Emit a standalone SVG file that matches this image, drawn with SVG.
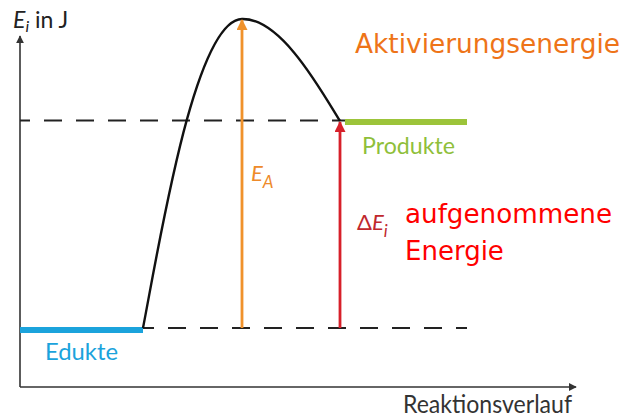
<svg xmlns="http://www.w3.org/2000/svg" width="635" height="417" viewBox="0 0 635 417">
<style>
.fig{font-family:Lato,"Open Sans","DejaVu Sans",sans-serif}
.ann{font-family:"DejaVu Sans",Verdana,sans-serif;font-size:26px}
.axis{stroke:#333;stroke-width:1.6;fill:none}
.dash{stroke:#222;stroke-width:2;stroke-dasharray:18 14;fill:none}
</style>
<defs>
<marker id="ax" viewBox="0 0 10 10" refX="9" refY="5" markerWidth="8" markerHeight="8" markerUnits="userSpaceOnUse" orient="auto"><path d="M0,0 L10,5 L0,10 Z" fill="#333"/></marker>
<marker id="orA" viewBox="0 0 10 10" refX="9" refY="5" markerWidth="13" markerHeight="11" markerUnits="userSpaceOnUse" orient="auto"><path d="M0,0 L10,5 L0,10 Z" fill="#f0922b"/></marker>
<marker id="rdA" viewBox="0 0 10 10" refX="9" refY="5" markerWidth="13" markerHeight="11" markerUnits="userSpaceOnUse" orient="auto"><path d="M0,0 L10,5 L0,10 Z" fill="#d7202a"/></marker>
</defs>
<rect width="635" height="417" fill="#fff"/>
<g id="axes">
<line class="axis" x1="20" y1="387" x2="20" y2="36" marker-end="url(#ax)"/>
<line class="axis" x1="20" y1="387" x2="576" y2="387" marker-end="url(#ax)"/>
<text class="fig" x="13" y="28" font-size="23" fill="#222"><tspan font-style="italic">E</tspan><tspan font-style="italic" font-size="16" dy="4">i</tspan><tspan dy="-4"> in J</tspan></text>
<text class="fig" x="403" y="413" font-size="25" fill="#333" textLength="169" lengthAdjust="spacingAndGlyphs">Reaktionsverlauf</text>
</g>
<g id="levels">
<line class="dash" x1="20" y1="120.5" x2="345" y2="120.5" stroke-dashoffset="8"/>
<line class="dash" x1="143" y1="328" x2="467" y2="328" stroke-dashoffset="7"/>
</g>
<g id="edukte">
<rect x="20" y="327" width="123" height="6" fill="#1ba3dc"/>
<text class="fig" x="45" y="360" font-size="24" fill="#1ba3dc" textLength="73" lengthAdjust="spacingAndGlyphs">Edukte</text>
</g>
<g id="produkte">
<rect x="345" y="119" width="122" height="6" fill="#9cc43a"/>
<text class="fig" x="362" y="154" font-size="24" fill="#8fbf3a" textLength="93" lengthAdjust="spacingAndGlyphs">Produkte</text>
</g>
<g id="connectors">
<path d="M143,328 C160,240 195,20 242,19 C280,18 318,85 340,121" fill="none" stroke="#111" stroke-width="2.4"/>
<line x1="242" y1="328" x2="242" y2="20" stroke="#f0922b" stroke-width="2.8" marker-end="url(#orA)"/>
<line x1="340" y1="328" x2="340" y2="122" stroke="#d7202a" stroke-width="2.8" marker-end="url(#rdA)"/>
</g>
<g id="label-ea">
<text class="fig" x="251" y="181" font-size="22" font-style="italic" fill="#ee8a2a">E<tspan font-size="17" dy="7">A</tspan></text>
</g>
<g id="label-dei">
<text class="fig" x="357" y="230" font-size="22" fill="#c0282d">Δ<tspan font-style="italic">E</tspan><tspan font-style="italic" font-size="17" dy="7">i</tspan></text>
</g>
<g id="annotations">
<text class="ann" x="355" y="53" fill="#ee7418" textLength="265" lengthAdjust="spacingAndGlyphs">Aktivierungsenergie</text>
<text class="ann" x="405" y="223" fill="#ff0000" textLength="207" lengthAdjust="spacingAndGlyphs">aufgenommene</text>
<text class="ann" x="405" y="260" fill="#ff0000">Energie</text>
</g>
</svg>
